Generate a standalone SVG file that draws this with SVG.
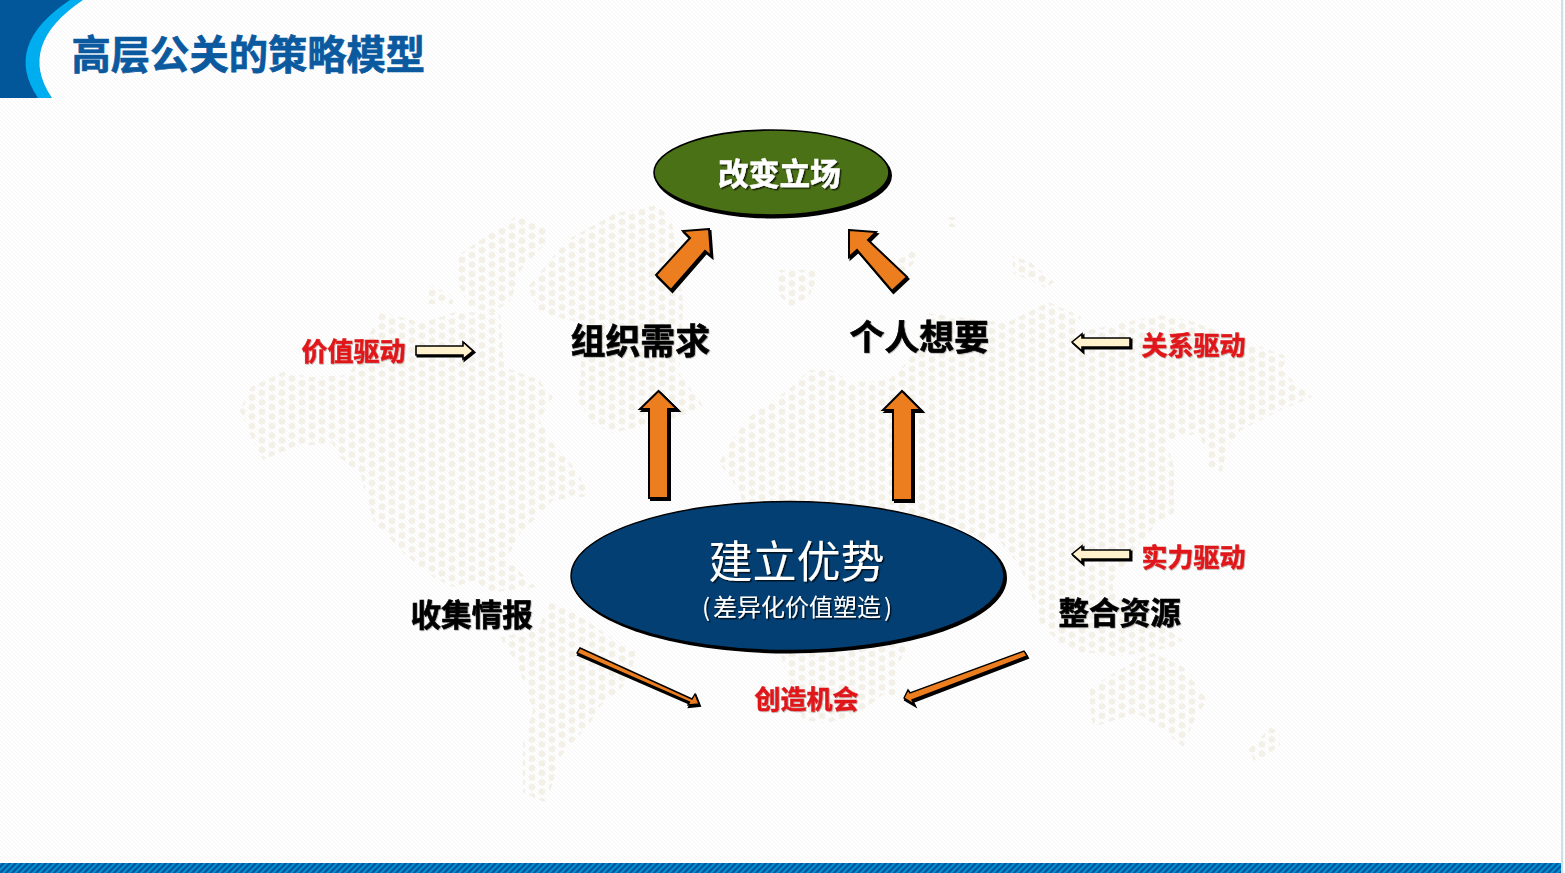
<svg xmlns="http://www.w3.org/2000/svg" width="1565" height="873" viewBox="0 0 1565 873">
<style>
.cjk{font-family:"Noto Sans CJK SC","Liberation Sans",sans-serif}
.lbl{font-weight:700;fill:#000;stroke:#000;stroke-width:0.6;filter:url(#ts)}
.red{font-weight:700;fill:#e0191a;stroke:#e0191a;stroke-width:0.5;font-size:26px;filter:url(#ts)}
.o{fill:#ec7e1f;stroke:#000;stroke-width:2;stroke-linejoin:miter}
.c{fill:#fff2cc;stroke:#000;stroke-width:1.6;stroke-linejoin:miter}
.s{fill:#000;stroke:#000;stroke-width:2}
.map{fill:url(#dots)}
</style>
<defs>
<pattern id="hatch" patternUnits="userSpaceOnUse" width="4" height="4"><rect width="4" height="4" fill="#fff"/><path d="M-1 -1L5 5M3 -1L5 1M-1 3L1 5" stroke="#f5f5f5" stroke-width="1"/></pattern>
<pattern id="bar" patternUnits="userSpaceOnUse" width="6" height="6"><rect width="6" height="6" fill="#0059a1"/><path d="M-1 7L7 -1M-1 1L1 -1M5 7L7 5" stroke="#0498d8" stroke-width="1.6"/></pattern>
<pattern id="dots" patternUnits="userSpaceOnUse" width="20" height="9.5" patternTransform="translate(252 388)"><circle cx="0" cy="0" r="3.4" fill="#f3f0e8"/><circle cx="20" cy="0" r="3.4" fill="#f3f0e8"/><circle cx="0" cy="9.5" r="3.4" fill="#f3f0e8"/><circle cx="20" cy="9.5" r="3.4" fill="#f3f0e8"/><circle cx="10" cy="4.75" r="3.4" fill="#f3f0e8"/></pattern>
<filter id="ts" x="-5%" y="-5%" width="110%" height="115%"><feDropShadow dx="0.7" dy="0.7" stdDeviation="0.3" flood-color="#000" flood-opacity="0.35"/></filter>
<filter id="ws" x="-5%" y="-5%" width="115%" height="120%"><feDropShadow dx="1.5" dy="1.5" stdDeviation="0.6" flood-color="#000" flood-opacity="0.7"/></filter>
</defs>
<rect width="1565" height="873" fill="url(#hatch)"/>
<rect x="1561" y="0" width="2.5" height="873" fill="#cfdfe5"/>
<rect x="1563.5" y="0" width="1.5" height="873" fill="#fff"/>
<g id="world-map">
<polygon class="map" points="240,410 251,387 283,372 311,377 349,375 381,312 423,323 455,312 500,313 504,367 539,380 553,397 539,420 553,443 576,470 590,496 553,500 517,537 507,560 537,587 487,593 477,580 453,587 433,577 403,553 373,520 360,473 339,457 332,443 293,447 263,460 251,437"/>
<polygon class="map" points="455,257 518,215 549,230 546,243 521,270 511,300 493,313 469,307 455,277"/>
<polygon class="map" points="426,286 434,286 453,297 453,304 426,304"/>
<polygon class="map" points="528,287 567,240 616,213 658,205 672,223 683,300 683,313 679,373 704,407 679,417 612,433 591,423 577,397 581,377 581,323 539,313"/>
<polygon class="map" points="500,637 517,663 533,710 523,743 523,793 547,803 560,757 590,723 600,707 627,683 637,652 607,635 567,607 550,602 537,630"/>
<polygon class="map" points="775,270 820,270 809,297 790,307 775,290"/>
<polygon class="map" points="895,262 918,248 918,258 908,270 898,272"/>
<polygon class="map" points="948,217 959,217 959,227 948,227"/>
<polygon class="map" points="1012,256 1030,262 1054,282 1046,288 1030,280 1014,274"/>
<polygon class="map" points="749,417 788,390 809,370 831,370 852,382 888,380 909,360 927,313 1006,323 1049,302 1081,317 1075,333 1159,315 1188,320 1288,357 1281,370 1312,397 1281,410 1241,430 1227,447 1222,472 1207,466 1206,453 1199,433 1166,440 1174,467 1174,513 1160,520 1143,540 1113,580 1113,593 1183,640 1173,647 1117,657 1103,653 1083,653 1060,643 1040,623 1030,590 1020,567 993,533 950,560 897,667 898,695 882,695 860,713 827,723 803,720 783,663 760,560 739,490 719,463 732,440"/>
<polygon class="map" points="1090,687 1143,657 1153,653 1183,667 1207,700 1193,723 1183,747 1160,727 1137,713 1093,727 1090,707"/>
<polygon class="map" points="1270,728 1279,730 1280,745 1256,764 1248,750"/>
</g>
<g id="header">
<path d="M0 0H83Q16 45 52 98H0Z" fill="#00aeef"/>
<path d="M0 0H70Q2 45 38 98H0Z" fill="#02579b"/>
<text id="title" class="cjk" x="71.5" y="69" font-size="39.3" font-weight="700" fill="#0b5a9f" stroke="#0b5a9f" stroke-width="0.7">高层公关的策略模型</text>
</g>
<rect id="footer-bar" x="0" y="863" width="1561" height="10" fill="url(#bar)"/>
<g id="connectors">
<g id="up-left"><polygon class="s" transform="translate(2 2)" points="658.5,391 640,409 649,409 649,498 668,498 668,409 677,409"/><polygon class="o" points="658.5,391 640,409 649,409 649,498 668,498 668,409 677,409"/></g>
<g id="up-right"><polygon class="s" transform="translate(2 2)" points="902,391 883,410 893,410 893,500 912,500 912,410 921,410"/><polygon class="o" points="902,391 883,410 893,410 893,500 912,500 912,410 921,410"/></g>
<g id="diag-left"><polygon class="s" transform="translate(1.5 2)" points="709,229 683,231 690,238 656,275 671,290 705,251 711,256"/><polygon class="o" points="709,229 683,231 690,238 656,275 671,290 705,251 711,256"/></g>
<g id="diag-right"><polygon class="s" transform="translate(1.5 2)" points="849,230 876,232 868,240 907,277 892,291 857,250 849,257"/><polygon class="o" points="849,230 876,232 868,240 907,277 892,291 857,250 849,257"/></g>
<g id="arrow-value"><polygon class="s" transform="translate(1.5 1.5)" points="416,346 463,346 463,342 473,351 463,359 463,355 416,355"/><polygon class="c" points="416,346 463,346 463,342 473,351 463,359 463,355 416,355"/></g>
<g id="arrow-relation"><polygon class="s" transform="translate(1.5 1.5)" points="1072,342 1082,334 1082,338 1130,338 1130,347 1082,347 1082,351"/><polygon class="c" points="1072,342 1082,334 1082,338 1130,338 1130,347 1082,347 1082,351"/></g>
<g id="arrow-strength"><polygon class="s" transform="translate(1.5 1.5)" points="1072,554 1082,546 1082,550 1130,550 1130,559 1082,559 1082,563"/><polygon class="c" points="1072,554 1082,546 1082,550 1130,550 1130,559 1082,559 1082,563"/></g>
<g id="thin-left"><polygon class="s" transform="translate(1 2)" points="580,648 692,699 695,694 699,704 688,705 689.5,702 577,653"/><polygon class="o" style="stroke-width:1.4" points="580,648 692,699 695,694 699,704 688,705 689.5,702 577,653"/></g>
<g id="thin-right"><polygon class="s" transform="translate(1 2)" points="904,698 908,690 910,693 1024,651 1027,656 912,700 914,704"/><polygon class="o" style="stroke-width:1.4" points="904,698 908,690 910,693 1024,651 1027,656 912,700 914,704"/></g>
</g>
<g id="node-goal">
<ellipse cx="773.5" cy="175.5" rx="118.5" ry="43" fill="#000"/>
<ellipse cx="771.5" cy="172.5" rx="117.5" ry="42.5" fill="#4a7116" stroke="#000" stroke-width="1.6"/>
<text class="cjk" x="718" y="185" font-size="30.7" font-weight="700" fill="#fff" stroke="#fff" stroke-width="0.5" filter="url(#ws)">改变立场</text>
</g>
<g id="node-advantage">
<ellipse cx="789.5" cy="578" rx="217.5" ry="75.5" fill="#000"/>
<ellipse cx="787.5" cy="576" rx="216.5" ry="74.5" fill="#033f73" stroke="#000" stroke-width="1.4"/>
<text class="cjk" x="708.5" y="578" font-size="44" fill="#fff" filter="url(#ws)">建立优势</text>
<text class="cjk" x="797" y="616" font-size="24" fill="#fff" text-anchor="middle" filter="url(#ws)">(<tspan dx="3">差异化价值塑造</tspan><tspan dx="3">)</tspan></text>
</g>
<g id="node-org"><text class="cjk lbl" x="570.5" y="354" font-size="34.9">组织需求</text></g>
<g id="node-person"><text class="cjk lbl" x="849.5" y="350" font-size="34.9">个人想要</text></g>
<g id="node-intel"><text class="cjk lbl" x="410.5" y="626" font-size="30.6">收集情报</text></g>
<g id="node-resource"><text class="cjk lbl" x="1058.5" y="624" font-size="30.6">整合资源</text></g>
<g id="label-value"><text class="cjk red" x="301.5" y="361">价值驱动</text></g>
<g id="label-relation"><text class="cjk red" x="1141.5" y="355">关系驱动</text></g>
<g id="label-strength"><text class="cjk red" x="1141.5" y="567">实力驱动</text></g>
<g id="label-chance"><text class="cjk red" x="754.5" y="709">创造机会</text></g>
</svg>
